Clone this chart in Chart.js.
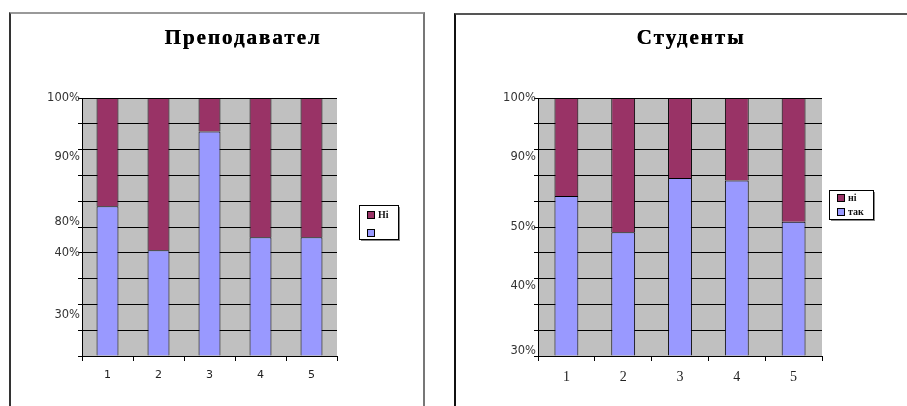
<!DOCTYPE html>
<html>
<head>
<meta charset="utf-8">
<script src="https://cdn.jsdelivr.net/npm/chart.js@4.4.0/dist/chart.umd.min.js"></script>
<style>
    body { margin: 0; width: 907px; height: 406px; overflow: hidden; position: relative; background: #fff; }
    .frame { position: absolute; box-sizing: border-box; }
    #frameLeft { left: 9px; top: 12px; width: 416px; height: 400px; border-top: 2px solid #999; border-left: 2px solid #333; border-right: 2px solid #777; }
    #frameRight { left: 454px; top: 13px; width: 460px; height: 400px; border-top: 2px solid #555; border-left: 2px solid #111; }
    .title { position: absolute; top: 25px; font: bold 21px "Liberation Serif", serif; letter-spacing: 2px; color: #000; white-space: nowrap; transform: translateX(-50%); text-shadow: 0.4px 0 0 #000; }
    canvas { position: absolute; top: 0; }
    #teacherChart { left: 0; }
    #studentChart { left: 453px; }
</style>
</head>
<body>
<div class="frame" id="frameLeft"></div>
<div class="frame" id="frameRight"></div>
<canvas id="teacherChart" width="453" height="406"></canvas>
<canvas id="studentChart" width="454" height="406"></canvas>
<div class="title" style="left:243px">Преподавател</div>
<div class="title" style="left:691px">Студенты</div>
<script>
(function () {

    // ================= DATA =================
    const categories = ["1", "2", "3", "4", "5"];
    const gridValues = [0, 10, 20, 30, 40, 50, 60, 70, 80, 90, 100];

    // Преподавател
    const teacherYes = [58, 41, 87, 46, 46];
    const teacherNo = [42, 59, 13, 54, 54];
    const teacherSeriesNames = ["", "Ні"];
    const teacherTickValues = [100, 77, 52, 40, 16];
    const teacherTickLabels = ["100%", "90%", "80%", "40%", "30%"];

    // Студенты
    const studentYes = [62, 48, 69, 68, 52];
    const studentNo = [38, 52, 31, 32, 48];
    const studentSeriesNames = ["так", "ні"];
    const studentTickValues = [100, 77, 50, 27, 2];
    const studentTickLabels = ["100%", "90%", "50%", "40%", "30%"];

    const BLUE = "#9999FF";
    const PLUM = "#993366";

    // ================= PLUGINS =================
    const plotBackground = {
        id: "plotBackground",
        beforeDraw(chart) {
            const { ctx, chartArea } = chart;
            ctx.save();
            ctx.fillStyle = "#C0C0C0";
            ctx.fillRect(chartArea.left, chartArea.top, chartArea.right - chartArea.left, chartArea.bottom - chartArea.top);
            ctx.restore();
        }
    };

    // boxed legend, top series first
    const boxLegend = {
        id: "boxLegend",
        afterDraw(chart, args, opts) {
            const ctx = chart.ctx;
            ctx.save();
            ctx.fillStyle = "#888";
            ctx.fillRect(opts.x + 2, opts.y + 2, opts.w, opts.h);
            ctx.fillStyle = "#fff";
            ctx.fillRect(opts.x, opts.y, opts.w, opts.h);
            ctx.strokeStyle = "#000";
            ctx.lineWidth = 1;
            ctx.strokeRect(opts.x + 0.5, opts.y + 0.5, opts.w, opts.h);
            const sets = chart.data.datasets.slice().reverse();
            sets.forEach((ds, i) => {
                const y = opts.y + opts.first + i * opts.step;
                ctx.fillStyle = ds.backgroundColor;
                ctx.fillRect(opts.x + 8, y - 3, 7, 7);
                ctx.strokeStyle = "#000";
                ctx.strokeRect(opts.x + 8.5, y - 2.5, 7, 7);
                ctx.fillStyle = "#111";
                ctx.font = opts.font;
                ctx.textBaseline = "middle";
                ctx.fillText(ds.label, opts.x + 19, y + 1);
            });
            ctx.restore();
        }
    };

    // ================= CHART BUILDER =================
    function makeChart(id, yes, no, names, tickValues, tickLabels, cfg) {
        const ctx = document.getElementById(id).getContext("2d");
        return new Chart(ctx, {
            type: "bar",
            data: {
                labels: categories,
                datasets: [
                    { label: names[0], data: yes, backgroundColor: BLUE, borderColor: "#000", borderWidth: 1, borderSkipped: "bottom" },
                    { label: names[1], data: no, backgroundColor: PLUM, borderColor: "#000", borderWidth: 1, borderSkipped: "bottom" }
                ]
            },
            options: {
                responsive: false,
                animation: false,
                layout: { padding: { left: 0, right: cfg.padRight, top: 98, bottom: 0 } },
                datasets: { bar: { categoryPercentage: 1, barPercentage: cfg.barPct } },
                plugins: {
                    legend: { display: false },
                    tooltip: { enabled: false },
                    boxLegend: cfg.legend
                },
                scales: {
                    x: {
                        stacked: true,
                        offset: true,
                        grid: { drawOnChartArea: false, drawTicks: true, tickLength: 5, color: "#000", offset: true },
                        border: { color: "#000" },
                        ticks: { color: "#222", padding: cfg.xPad, font: cfg.xFont },
                        afterFit(scale) { scale.height = 50; }
                    },
                    y: {
                        stacked: true,
                        min: 0,
                        max: 100,
                        afterBuildTicks(scale) {
                            const vals = Array.from(new Set(gridValues.concat(tickValues))).sort((a, b) => a - b);
                            scale.ticks = vals.map(v => ({ value: v }));
                        },
                        grid: {
                            color: c => (c.tick && c.tick.value % 10 === 0) ? "#000" : "rgba(0,0,0,0)",
                            tickColor: c => (c.tick && c.tick.value % 10 === 0) ? "#000" : "rgba(0,0,0,0)",
                            tickLength: 4
                        },
                        border: { color: "#000" },
                        ticks: {
                            autoSkip: false,
                            padding: -2,
                            color: "#333",
                            font: { family: "DejaVu Sans", size: 11.5 },
                            callback: v => {
                                const i = tickValues.indexOf(v);
                                return i >= 0 ? tickLabels[i] : "";
                            }
                        },
                        afterFit(scale) { scale.width = cfg.yWidth; }
                    }
                }
            },
            plugins: [plotBackground, boxLegend]
        });
    }

    makeChart("teacherChart", teacherYes, teacherNo, teacherSeriesNames, teacherTickValues, teacherTickLabels, {
        padRight: 116,
        yWidth: 82,
        barPct: 0.43,
        xPad: 8,
        xFont: { family: "DejaVu Sans", size: 11 },
        legend: { x: 359, y: 205, w: 39, h: 34, first: 9, step: 18, font: "bold 10px 'Liberation Serif'" }
    });

    makeChart("studentChart", studentYes, studentNo, studentSeriesNames, studentTickValues, studentTickLabels, {
        padRight: 85,
        yWidth: 85,
        barPct: 0.42,
        xPad: 8,
        xFont: { family: "Liberation Serif", size: 14 },
        legend: { x: 376, y: 190, w: 44, h: 29, first: 7, step: 14, font: "bold 10px 'Liberation Serif'" }
    });

})();
</script>
</body>
</html>
